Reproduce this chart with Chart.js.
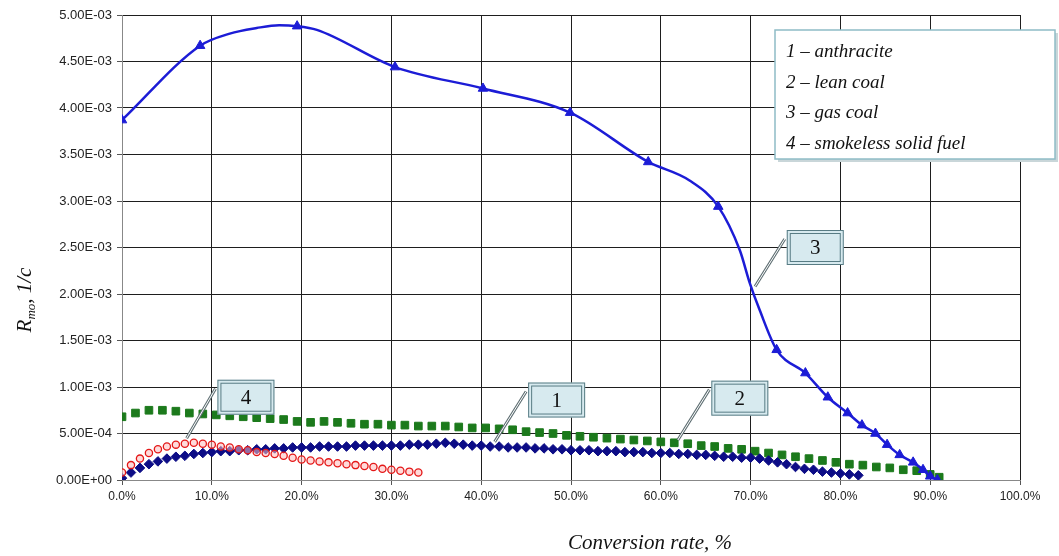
<!DOCTYPE html>
<html>
<head>
<meta charset="utf-8">
<script src="https://cdn.jsdelivr.net/npm/chart.js@4.4.1/dist/chart.umd.min.js"></script>
<style>
  html, body { margin: 0; padding: 0; background: #fff; }
  #wrap { width: 1059px; height: 556px; }
</style>
</head>
<body>
<div id="wrap"><canvas id="myChart" width="1059" height="556"></canvas></div>
<script>
// conversion rate, %  /  R_mo values in units of 1E-03 1/c
const gasCoalX = [0, 8.7, 12, 15, 17.5, 19.5, 21.7, 30.4, 40.2, 49.9, 58.6, 63.2, 66.4, 68.8, 69.9, 71.0, 72.9, 76.1, 78.6, 80.8, 82.4, 83.9, 85.2, 86.6, 88.1, 89.2, 90.0, 90.8]
const gasCoalR = [3.87, 4.67, 4.80, 4.86, 4.89, 4.88, 4.84, 4.44, 4.21, 3.95, 3.42, 3.22, 2.94, 2.47, 2.12, 1.83, 1.40, 1.15, 0.89, 0.72, 0.59, 0.50, 0.38, 0.27, 0.19, 0.11, 0.04, 0.0]
// points of the gas coal curve that carry a triangle marker
const gasCoalMarked = [0, 1, 5, 7, 8, 9, 10, 12, 16, 17, 18, 19, 20, 21, 22, 23, 24, 25, 26, 27]

const leanCoalX = [0, 1.5, 3, 4.5, 6, 7.5, 9, 10.5, 12, 13.5, 15, 16.5, 18, 19.5, 21, 22.5, 24, 25.5, 27, 28.5,
  30, 31.5, 33, 34.5, 36, 37.5, 39, 40.5, 42, 43.5, 45, 46.5, 48, 49.5, 51, 52.5, 54, 55.5, 57, 58.5,
  60, 61.5, 63, 64.5, 66, 67.5, 69, 70.5, 72, 73.5, 75, 76.5, 78, 79.5, 81, 82.5, 84, 85.5, 87, 88.5, 90, 91]
const leanCoalR = [0.68, 0.72, 0.75, 0.75, 0.74, 0.72, 0.71, 0.70, 0.69, 0.68, 0.67, 0.66, 0.65, 0.63, 0.62, 0.63, 0.62, 0.61, 0.60, 0.60,
  0.59, 0.59, 0.58, 0.58, 0.58, 0.57, 0.56, 0.56, 0.55, 0.54, 0.52, 0.51, 0.50, 0.48, 0.47, 0.46, 0.45, 0.44, 0.43, 0.42,
  0.41, 0.40, 0.39, 0.37, 0.36, 0.34, 0.33, 0.31, 0.29, 0.27, 0.25, 0.23, 0.21, 0.19, 0.17, 0.16, 0.14, 0.13, 0.11, 0.10, 0.06, 0.03]

const anthraciteX = [0, 1, 2, 3, 4, 5, 6, 7, 8, 9, 10, 11, 12, 13, 14, 15, 16, 17, 18, 19, 20,
  21, 22, 23, 24, 25, 26, 27, 28, 29, 30, 31, 32, 33, 34, 35, 36, 37, 38, 39, 40,
  41, 42, 43, 44, 45, 46, 47, 48, 49, 50, 51, 52, 53, 54, 55, 56, 57, 58, 59, 60,
  61, 62, 63, 64, 65, 66, 67, 68, 69, 70, 71, 72, 73, 74, 75, 76, 77, 78, 79, 80, 81, 82]
const anthraciteR = [0.02, 0.08, 0.13, 0.17, 0.20, 0.23, 0.25, 0.26, 0.28, 0.29, 0.30, 0.31, 0.31, 0.32, 0.32, 0.33, 0.33, 0.34, 0.34, 0.35, 0.35,
  0.35, 0.36, 0.36, 0.36, 0.36, 0.37, 0.37, 0.37, 0.37, 0.37, 0.37, 0.38, 0.38, 0.38, 0.39, 0.40, 0.39, 0.38, 0.37, 0.37,
  0.36, 0.36, 0.35, 0.35, 0.35, 0.34, 0.34, 0.33, 0.33, 0.32, 0.32, 0.32, 0.31, 0.31, 0.31, 0.30, 0.30, 0.30, 0.29, 0.29,
  0.29, 0.28, 0.28, 0.27, 0.27, 0.26, 0.25, 0.25, 0.24, 0.24, 0.23, 0.21, 0.19, 0.17, 0.14, 0.12, 0.11, 0.09, 0.08, 0.07, 0.06, 0.05]

const smokelessX = [0, 1, 2, 3, 4, 5, 6, 7, 8, 9, 10, 11, 12, 13, 14, 15, 16, 17, 18, 19, 20,
  21, 22, 23, 24, 25, 26, 27, 28, 29, 30, 31, 32, 33]
const smokelessR = [0.08, 0.16, 0.23, 0.29, 0.33, 0.36, 0.38, 0.39, 0.40, 0.39, 0.38, 0.36, 0.35, 0.33, 0.32, 0.30, 0.29, 0.28, 0.26, 0.24, 0.22,
  0.21, 0.20, 0.19, 0.18, 0.17, 0.16, 0.15, 0.14, 0.12, 0.11, 0.10, 0.09, 0.08]

const xTicks = [0, 10, 20, 30, 40, 50, 60, 70, 80, 90, 100]
const yMax = 5.0e-3
const yStep = 0.5e-3
const legendLines = ['1 \u2013 anthracite', '2 \u2013 lean coal', '3 \u2013 gas coal', '4 \u2013 smokeless solid fuel']
const calloutLabels = ['3', '4', '1', '2']

function pts(xs, rs) {
  return xs.map((x, i) => ({ x: x, y: rs[i] * 1e-3 }))
}

function sci(v) {
  if (Math.abs(v) < 1e-12) return '0.00E+00'
  let e = Math.floor(Math.log10(Math.abs(v)) + 1e-9)
  let m = Math.round(v / Math.pow(10, e) * 100) / 100
  if (m >= 10) { m = m / 10; e += 1 }
  return m.toFixed(2) + 'E' + (e < 0 ? '-' : '+') + String(Math.abs(e)).padStart(2, '0')
}

// callouts: label box centre and the point the leader goes to, in data units (x %, y E-03)
const callouts = [
  { text: calloutLabels[0], box: [77.2, 2.50], tip: [70.5, 2.08] },
  { text: calloutLabels[1], box: [13.8, 0.89], tip: [7.2, 0.45] },
  { text: calloutLabels[2], box: [48.4, 0.86], tip: [41.5, 0.41] },
  { text: calloutLabels[3], box: [68.8, 0.88], tip: [61.9, 0.43] }
]

const decorations = {
  id: 'decorations',
  afterDraw(chart) {
    const ctx = chart.ctx
    const xs = chart.scales.x, ys = chart.scales.y
    ctx.save()

    // callout boxes with leader lines
    callouts.forEach(c => {
      const bx = xs.getPixelForValue(c.box[0]), by = ys.getPixelForValue(c.box[1] * 1e-3)
      const tx = xs.getPixelForValue(c.tip[0]), ty = ys.getPixelForValue(c.tip[1] * 1e-3)
      const w = 57, h = 35
      const left = bx - w / 2, top = by - h / 2
      const sx = left - 2, sy = top + 9
      ctx.lineCap = 'butt'
      ctx.strokeStyle = '#5f6f73'
      ctx.lineWidth = 3
      ctx.beginPath(); ctx.moveTo(sx, sy); ctx.lineTo(tx, ty); ctx.stroke()
      ctx.strokeStyle = '#ffffff'
      ctx.lineWidth = 1
      ctx.beginPath(); ctx.moveTo(sx, sy); ctx.lineTo(tx, ty); ctx.stroke()

      ctx.fillStyle = '#d7eaef'
      ctx.fillRect(left, top, w, h)
      ctx.strokeStyle = '#587c84'
      ctx.lineWidth = 1
      ctx.strokeRect(left + 0.5, top + 0.5, w - 1, h - 1)
      ctx.strokeRect(left + 3.5, top + 3.5, w - 7, h - 7)
      ctx.fillStyle = '#111'
      ctx.font = '21px "Liberation Serif", serif'
      ctx.textAlign = 'center'
      ctx.textBaseline = 'middle'
      ctx.fillText(c.text, bx, by + 1)
    })

    // legend box
    const lx = 775, ly = 30, lw = 280, lh = 129
    ctx.fillStyle = '#c9d6d9'
    ctx.fillRect(lx + 3, ly + 3, lw, lh)
    ctx.fillStyle = '#ffffff'
    ctx.fillRect(lx, ly, lw, lh)
    ctx.strokeStyle = '#8fbcc6'
    ctx.lineWidth = 1.5
    ctx.strokeRect(lx, ly, lw, lh)
    ctx.fillStyle = '#111'
    ctx.font = 'italic 19px "Liberation Serif", serif'
    ctx.textAlign = 'left'
    ctx.textBaseline = 'middle'
    legendLines.forEach((t, i) => ctx.fillText(t, lx + 11, ly + 22 + i * 30.5))

    // x title
    ctx.font = 'italic 21px "Liberation Serif", serif'
    ctx.textAlign = 'center'
    ctx.textBaseline = 'middle'
    ctx.fillText('Conversion rate, %', 650, 543)

    // y title with subscript
    ctx.translate(24, 300)
    ctx.rotate(-Math.PI / 2)
    ctx.textAlign = 'left'
    ctx.textBaseline = 'alphabetic'
    const big = 'italic 21px "Liberation Serif", serif'
    const small = 'italic 13px "Liberation Serif", serif'
    ctx.font = big
    const wR = ctx.measureText('R').width
    ctx.font = small
    const wSub = ctx.measureText('mo').width
    ctx.font = big
    const wRest = ctx.measureText(', 1/c').width
    let px = -(wR + wSub + wRest) / 2
    ctx.fillText('R', px, 7); px += wR
    ctx.font = small
    ctx.fillText('mo', px, 11); px += wSub
    ctx.font = big
    ctx.fillText(', 1/c', px, 7)

    ctx.restore()
  }
}

const whiteBg = {
  id: 'whiteBg',
  beforeDraw(chart) {
    const ctx = chart.ctx
    ctx.save()
    ctx.fillStyle = '#fff'
    ctx.fillRect(0, 0, chart.width, chart.height)
    ctx.restore()
  }
}

function getChart() {
  const ctx = document.getElementById('myChart')
  new Chart(ctx, {
    type: 'scatter',
    data: {
      datasets: [
        {
          label: '3 - gas coal',
          data: pts(gasCoalX, gasCoalR),
          showLine: true,
          borderColor: '#1c1cd6',
          backgroundColor: '#1c1cd6',
          borderWidth: 2.5,
          cubicInterpolationMode: 'monotone',
          pointStyle: 'triangle',
          pointRadius: c => gasCoalMarked.includes(c.dataIndex) ? 5.5 : 0,
          pointBorderWidth: 1
        },
        {
          label: '4 - smokeless solid fuel',
          data: pts(smokelessX, smokelessR),
          showLine: false,
          pointStyle: 'circle',
          pointRadius: 3.6,
          borderColor: '#e41818',
          backgroundColor: 'rgba(255,190,190,0.55)',
          pointBorderWidth: 1.3
        },
        {
          label: '1 - anthracite',
          data: pts(anthraciteX, anthraciteR),
          showLine: false,
          pointStyle: 'rectRot',
          pointRadius: 4.8,
          borderColor: '#0c0c86',
          backgroundColor: '#0c0c86',
          pointBorderWidth: 1
        },
        {
          label: '2 - lean coal',
          data: pts(leanCoalX, leanCoalR),
          showLine: false,
          pointStyle: 'rect',
          pointRadius: 5.4,
          borderColor: '#1c7a1c',
          backgroundColor: '#1c7a1c',
          pointBorderWidth: 1
        }
      ]
    },
    options: {
      responsive: false,
      animation: false,
      layout: { padding: { top: 15, right: 39, left: 0, bottom: 0 } },
      plugins: {
        legend: { display: false },
        tooltip: { enabled: false }
      },
      scales: {
        x: {
          type: 'linear',
          min: 0,
          max: 100,
          afterBuildTicks: s => { s.ticks = xTicks.map(v => ({ value: v })) },
          afterFit: s => { s.height = 76 },
          ticks: {
            callback: v => v.toFixed(1) + '%',
            color: '#222',
            font: { family: '"Liberation Sans", Arial, sans-serif', size: 12 },
            padding: 4,
            maxRotation: 0
          },
          grid: { color: '#1e1e1e', lineWidth: 1, tickLength: 5, tickColor: '#555' },
          border: { color: '#888', width: 1 }
        },
        y: {
          min: 0,
          max: yMax,
          afterFit: s => { s.width = 122 },
          ticks: {
            stepSize: yStep,
            callback: v => sci(v),
            color: '#222',
            font: { family: '"Liberation Sans", Arial, sans-serif', size: 13 },
            padding: 5
          },
          grid: { color: '#1e1e1e', lineWidth: 1, tickLength: 5, tickColor: '#555' },
          border: { color: '#888', width: 1 }
        }
      }
    },
    plugins: [whiteBg, decorations]
  })
}

getChart()
</script>
</body>
</html>
